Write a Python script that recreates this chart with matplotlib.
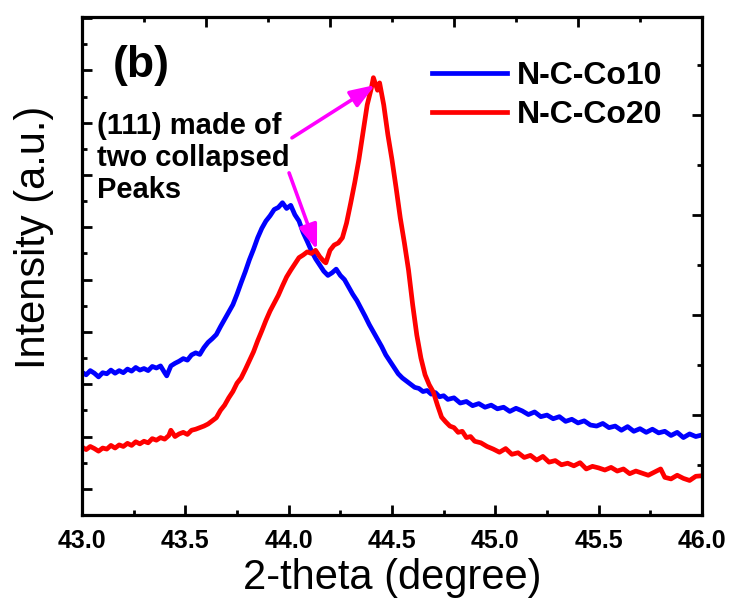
import matplotlib
matplotlib.use("Agg")
import matplotlib.pyplot as plt
from matplotlib.ticker import MultipleLocator, FixedLocator, NullFormatter

plt.rcParams['font.family'] = ['Liberation Sans', 'DejaVu Sans']

# ---- data ----
co10_x = [43.00, 43.02, 43.04, 43.06, 43.08, 43.10, 43.12, 43.14, 43.16, 43.18,
          43.20, 43.22, 43.24, 43.26, 43.28, 43.30, 43.32, 43.34, 43.36, 43.38,
          43.40, 43.41, 43.43, 43.45, 43.47, 43.49, 43.51, 43.53, 43.55, 43.57,
          43.59, 43.61, 43.63, 43.65, 43.67, 43.69, 43.71, 43.73, 43.75, 43.77,
          43.79, 43.81, 43.83, 43.85, 43.87, 43.89, 43.91, 43.93, 43.95, 43.97,
          43.99, 44.01, 44.03, 44.05, 44.07, 44.09, 44.11, 44.13, 44.15, 44.17,
          44.19, 44.21, 44.23, 44.25, 44.27, 44.29, 44.31, 44.33, 44.35, 44.37,
          44.39, 44.41, 44.43, 44.45, 44.47, 44.49, 44.51, 44.53, 44.55, 44.57,
          44.59, 44.61, 44.63, 44.65, 44.67, 44.69, 44.71, 44.73, 44.75, 44.77,
          44.80, 44.83, 44.86, 44.89, 44.92, 44.95, 44.98, 45.01, 45.04, 45.07,
          45.10, 45.13, 45.16, 45.19, 45.22, 45.25, 45.28, 45.31, 45.34, 45.37,
          45.40, 45.43, 45.46, 45.49, 45.52, 45.55, 45.58, 45.61, 45.64, 45.67,
          45.70, 45.73, 45.76, 45.79, 45.82, 45.85, 45.88, 45.91, 45.94, 45.97,
          46.00]
co10_y = [273, 268, 276, 271, 264, 272, 270, 277, 271, 276,
          272, 279, 275, 282, 277, 280, 276, 284, 281, 285,
          272, 266, 285, 290, 294, 299, 296, 306, 310, 307,
          320, 330, 337, 345, 360, 374, 388, 402, 422, 444,
          465, 488, 508, 530, 548, 562, 572, 584, 588, 597,
          586, 592, 574, 562, 540, 523, 505, 490, 478, 466,
          458, 463, 470, 458, 450, 436, 422, 410, 395, 380,
          364, 350, 336, 322, 306, 294, 282, 270, 262, 256,
          250, 244, 242, 236, 238, 231, 234, 226, 228, 221,
          224, 214, 217, 209, 213, 206, 210, 203, 206, 198,
          204, 199, 192, 197, 188, 191, 184, 188, 179, 183,
          176, 180, 172, 170, 175, 167, 170, 162, 169, 160,
          165, 158, 164, 157, 160, 152, 158, 148, 155, 150,
          153]

co20_x = [43.00, 43.02, 43.04, 43.06, 43.08, 43.10, 43.12, 43.14, 43.16, 43.18,
          43.20, 43.22, 43.24, 43.26, 43.28, 43.30, 43.32, 43.34, 43.36, 43.38,
          43.40, 43.42, 43.43, 43.45, 43.47, 43.49, 43.51, 43.53, 43.55, 43.57,
          43.59, 43.61, 43.63, 43.65, 43.67, 43.69, 43.71, 43.73, 43.75, 43.77,
          43.79, 43.81, 43.83, 43.85, 43.87, 43.89, 43.91, 43.93, 43.95, 43.97,
          43.99, 44.01, 44.03, 44.05, 44.07, 44.09, 44.11, 44.13, 44.15, 44.17,
          44.18, 44.20, 44.22, 44.24, 44.26, 44.28, 44.30, 44.32, 44.34, 44.36,
          44.38, 44.40, 44.41, 44.43, 44.44, 44.46, 44.48, 44.50, 44.52, 44.54,
          44.56, 44.58, 44.60, 44.62, 44.64, 44.66, 44.68, 44.70, 44.72, 44.74,
          44.76, 44.78, 44.80, 44.82, 44.84, 44.86, 44.88, 44.90, 44.93, 44.96,
          44.99, 45.02, 45.05, 45.08, 45.11, 45.14, 45.17, 45.20, 45.23, 45.26,
          45.29, 45.32, 45.35, 45.38, 45.41, 45.44, 45.47, 45.50, 45.53, 45.56,
          45.59, 45.62, 45.65, 45.68, 45.71, 45.74, 45.77, 45.80, 45.82, 45.85,
          45.88, 45.91, 45.94, 45.97, 46.00]
co20_y = [130, 125, 131, 127, 122, 128, 126, 133, 128, 134,
          131, 137, 133, 140, 136, 141, 138, 146, 143, 148,
          145, 152, 162, 150, 155, 158, 154, 162, 164, 167,
          170, 174, 180, 186, 200, 210, 224, 236, 252, 262,
          278, 295, 312, 333, 352, 372, 390, 405, 420, 438,
          455, 468, 480, 492, 497, 503, 500, 506, 494, 485,
          482, 506, 516, 520, 530, 558, 596, 636, 680, 732,
          784, 816, 836, 812, 826, 784, 727, 679, 625, 568,
          520, 468, 402, 344, 300, 268, 249, 235, 210, 187,
          178, 170, 167, 158, 160, 148, 150, 141, 138, 131,
          126, 120, 127, 116, 119, 110, 114, 105, 112, 101,
          104, 96, 99, 94, 100, 88, 93, 90, 86, 91,
          84, 88, 79, 84, 80, 76, 82, 88, 72, 69,
          76, 70, 66, 74, 75]

series_labels = ["N-C-Co10", "N-C-Co20"]
x_ticks = [43.0, 43.5, 44.0, 44.5, 45.0, 45.5, 46.0]
x_tick_labels = ["43.0", "43.5", "44.0", "44.5", "45.0", "45.5", "46.0"]

# ---- figure ----
fig = plt.figure(figsize=(7.31, 6.08), dpi=100)
ax = fig.add_axes([82/731, 1-515/608, 620/731, 498/608])

ax.plot(co10_x, co10_y, color='#0000FF', lw=3.4, label=series_labels[0])
ax.plot(co20_x, co20_y, color='#FF0000', lw=3.4, label=series_labels[1])

ax.set_xlim(43.0, 46.0)
ax.set_ylim(0, 952)

ax.xaxis.set_major_locator(FixedLocator(x_ticks))
ax.set_xticklabels(x_tick_labels, fontsize=18, fontweight='bold')
ax.xaxis.set_minor_locator(MultipleLocator(0.25))
ax.yaxis.set_major_locator(FixedLocator([50 + 100*k for k in range(10)]))
ax.yaxis.set_minor_locator(FixedLocator([100*k for k in range(10)]))
ax.yaxis.set_major_formatter(NullFormatter())

for sp in ax.spines.values():
    sp.set_linewidth(2.3)

ax.tick_params(which='major', direction='in', length=7, width=2, top=False, right=False, pad=10)
ax.tick_params(which='minor', direction='in', length=3.6, width=2, top=False, right=False)

# top axis ticks
axt = ax.twiny()
axt.set_xlim(0, 10)
axt.xaxis.set_major_locator(MultipleLocator(2))
axt.xaxis.set_minor_locator(MultipleLocator(1))
axt.xaxis.set_major_formatter(NullFormatter())
axt.tick_params(which='major', direction='in', length=7, width=2)
axt.tick_params(which='minor', direction='in', length=3.6, width=2)
for sp in axt.spines.values():
    sp.set_visible(False)

# right axis ticks
axr = ax.twinx()
axr.set_ylim(0, 9.96)
axr.yaxis.set_major_locator(MultipleLocator(2))
axr.yaxis.set_minor_locator(MultipleLocator(1))
axr.yaxis.set_major_formatter(NullFormatter())
axr.tick_params(which='major', direction='in', length=7, width=2)
axr.tick_params(which='minor', direction='in', length=3.6, width=2)
for sp in axr.spines.values():
    sp.set_visible(False)

ax.set_xlabel("2-theta (degree)", fontsize=30, labelpad=4)
ax.set_ylabel("Intensity (a.u.)", fontsize=30)
ax.yaxis.set_label_coords(-0.045, 0.558)

ax.text(0.05, 0.944, "(b)", transform=ax.transAxes, fontsize=32,
        fontweight='bold', va='top', ha='left')
ax.text(0.024, 0.81, "(111) made of\ntwo collapsed\nPeaks", transform=ax.transAxes,
        fontsize=21, fontweight='bold', va='top', ha='left', linespacing=1.2)

arrow_kw = dict(arrowstyle='-|>,head_length=0.6,head_width=0.22', color='#FF00FF',
                lw=2.6, mutation_scale=25, shrinkA=0, shrinkB=0)
ax.annotate('', xy=(44.418, 822), xytext=(44.016, 721), arrowprops=arrow_kw)
ax.annotate('', xy=(44.137, 507), xytext=(44.002, 654), arrowprops=arrow_kw)

leg = ax.legend(loc='upper left', bbox_to_anchor=(0.565, 0.911), frameon=False,
                handlelength=2.35, handletextpad=0.31, labelspacing=0.28,
                borderpad=0, borderaxespad=0,
                prop=dict(size=23, weight='bold'))

fig.savefig("out.png", dpi=100)
